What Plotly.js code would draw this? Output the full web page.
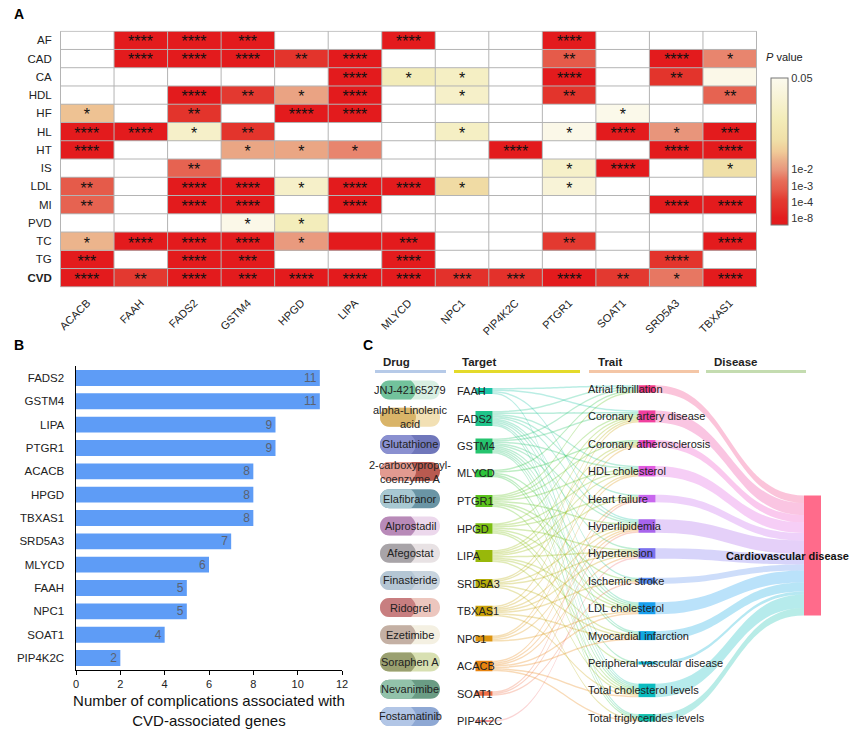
<!DOCTYPE html>
<html>
<head>
<meta charset="utf-8">
<script src="https://cdn.plot.ly/plotly-3.0.1.min.js"></script>
<style>html,body{margin:0;padding:0;background:#fff;}#chart{width:861px;height:736px;}</style>
</head>
<body>
<div id="chart"></div>
<script>
// ---------------- DATA ----------------
const genes = ['ACACB','FAAH','FADS2','GSTM4','HPGD','LIPA','MLYCD','NPC1','PIP4K2C','PTGR1','SOAT1','SRD5A3','TBXAS1'];
const traitCodes = ['AF','CAD','CA','HDL','HF','HL','HT','IS','LDL','MI','PVD','TC','TG','CVD'];
const traitNames = ['Atrial fibrillation','Coronary artery disease','Coronary atherosclerosis','HDL cholesterol','Heart failure','Hyperlipidemia','Hypertension','Ischemic stroke','LDL cholesterol','Myocardial infarction','Peripheral vascular disease','Total cholesterol levels','Total triglycerides levels'];
const R = 1e-10; // strongest (deep red)
// estimated P values (null = not significant / blank), rows = traitCodes, cols = genes
const pAF  = [null, R, R, R, null, null, R, null, null, R, null, null, null];
const pCAD = [null, R, R, R, 3e-5, R, null, null, null, 6e-4, null, R, 5e-3];
const pCA  = [null, null, null, null, null, R, 0.024, 0.028, null, R, null, 3e-5, 0.046];
const pHDL = [null, null, R, 1.3e-4, 0.0108, R, null, 0.03, null, 3e-5, null, null, 1.1e-3];
const pHF  = [0.013, null, 3e-5, null, R, R, null, null, null, null, 0.047, null, null];
const pHL  = [R, R, 0.03, 3e-5, null, null, null, 0.028, null, 0.046, R, 0.009, R];
const pHT  = [R, null, null, 0.011, 0.011, 5e-3, null, null, R, null, null, R, R];
const pIS  = [null, null, 1.1e-3, null, null, null, null, null, null, 0.03, R, null, 0.017];
const pLDL = [6e-4, null, R, R, 0.03, R, R, 0.016, null, 0.036, null, null, null];
const pMI  = [1.1e-3, null, R, R, null, R, null, null, null, null, null, R, R];
const pPVD = [null, null, null, 0.046, 0.025, null, null, null, null, null, null, null, null];
const pTC  = [0.012, R, R, R, 0.0102, R, R, null, null, 1.3e-4, null, null, R];
const pTG  = [R, null, R, R, null, null, R, null, null, null, null, 3e-5, null];
const pCVD = [R, 1.3e-4, R, R, R, R, R, 1e-5, 1e-5, R, 1.3e-4, 3e-3, R];
const sAF  = ['','****','****','***','','','****','','','****','','',''];
const sCAD = ['','****','****','****','**','****','','','','**','','****','*'];
const sCA  = ['','','','','','****','*','*','','****','','**',''];
const sHDL = ['','','****','**','*','****','','*','','**','','','**'];
const sHF  = ['*','','**','','****','****','','','','','*','',''];
const sHL  = ['****','****','*','**','','','','*','','*','****','*','***'];
const sHT  = ['****','','','*','*','*','','','****','','','****','****'];
const sIS  = ['','','**','','','','','','','*','****','','*'];
const sLDL = ['**','','****','****','*','****','****','*','','*','','',''];
const sMI  = ['**','','****','****','','****','','','','','','****','****'];
const sPVD = ['','','','*','*','','','','','','','',''];
const sTC  = ['*','****','****','****','*','','***','','','**','','','****'];
const sTG  = ['***','','****','***','','','****','','','','','****',''];
const sCVD = ['****','**','****','***','****','****','****','***','***','****','**','*','****'];
const pMatrix = [pAF,pCAD,pCA,pHDL,pHF,pHL,pHT,pIS,pLDL,pMI,pPVD,pTC,pTG,pCVD];
const starMatrix = [sAF,sCAD,sCA,sHDL,sHF,sHL,sHT,sIS,sLDL,sMI,sPVD,sTC,sTG,sCVD];
const cbTickP = [0.05, 1e-2, 1e-3, 1e-4, 1e-8];
const cbTickText = ['0.05','1e-2','1e-3','1e-4','1e-8'];

const barGenes  = ['FADS2','GSTM4','LIPA','PTGR1','ACACB','HPGD','TBXAS1','SRD5A3','MLYCD','FAAH','NPC1','SOAT1','PIP4K2C'];
const barCounts = [11, 11, 9, 9, 8, 8, 8, 7, 6, 5, 5, 4, 2];

const sankeyTargets = ['FAAH','FADS2','GSTM4','MLYCD','PTGR1','HPGD','LIPA','SRD5A3','TBXAS1','NPC1','ACACB','SOAT1','PIP4K2C'];
const drugs = ['JNJ-42165279','alpha-Linolenic<br>acid','Glutathione','2-carboxypropyl-<br>coenzyme A','Elafibranor','Alprostadil','Afegostat','Finasteride','Ridogrel','Ezetimibe','Soraphen A','Nevanimibe','Fostamatinib'];
const diseaseName = 'Cardiovascular disease';

// ---------------- STYLE ----------------
const W = 861, H = 736;
const X = x => x / W, Y = y => 1 - y / H;
const FONT = 'Liberation Sans, Arial, sans-serif';
const targetColors = ['#19c4a6','#1fc48a','#25c46e','#2cc43a','#5cc21e','#7cbf12','#98b80a','#b5ad08','#cba20a','#dd940e','#e88410','#f07048','#f07070'];
const traitColors = ['#f23a86','#f0409e','#f04cc8','#e05ce0','#c866ee','#a864ec','#7c72ee','#5a8ef0','#1aa0ee','#10a8e0','#0cb2d4','#0cbcc0','#14c0ae'];
const diseaseColor = '#ff6b8b';
const pillColors = [
  ['#72c29c','#d8efe2'],['#d9b468','#f2e0b4'],['#8a90d0','#7077bb'],['#e29a90','#b85a50'],
  ['#a8c8d2','#6a95a5'],['#b88ab8','#ecd8ec'],['#a8a4a8','#e8e2e4'],['#b4c6d4','#c8d4de'],
  ['#c87e80','#ecc6be'],['#c4b0a4','#f4f0e2'],['#9aa070','#d8e0b2'],['#92c2aa','#6a9c84'],['#b2c6e6','#8ea8d4']
];
function rgba(hex, a){ const n=parseInt(hex.slice(1),16); return `rgba(${n>>16},${(n>>8)&255},${n&255},${a})`; }

// P value -> colour position (piecewise in log10, following the colour bar ticks)
const anchors = [[-12,0],[-8,0.046],[-4,0.154],[-3,0.267],[-2,0.378],[Math.log10(0.05),1.0]];
function pos(p){
  const l = Math.max(-12, Math.log10(p));
  for(let i=1;i<anchors.length;i++){
    if(l <= anchors[i][0]){
      const [a0,t0]=anchors[i-1],[a1,t1]=anchors[i];
      return t0 + (l-a0)/(a1-a0)*(t1-t0);
    }
  }
  return 1;
}
const zMatrix = pMatrix.map(r => r.map(p => p===null ? null : pos(p)));

// ---------------- TRACES ----------------
const heat = {
  type:'heatmap', x: genes, y: traitCodes, z: zMatrix,
  zmin:0, zmax:1, xaxis:'x', yaxis:'y', hoverinfo:'skip',
  colorscale:[[0,'#e31a1c'],[0.05,'#e31c1e'],[0.12,'#e3302a'],[0.17,'#e33a30'],[0.24,'#e55a4a'],[0.30,'#e76c58'],[0.37,'#e8947a'],[0.44,'#ebb08a'],[0.50,'#f0cb98'],[0.58,'#f0e0a8'],[0.72,'#f3ecb9'],[0.87,'#f8f3d6'],[1,'#fcfaee']],
  colorbar:{x:X(771), xanchor:'left', xpad:0, y:Y(151.4), yanchor:'middle', ypad:0,
    len:147.3/H, lenmode:'fraction', thickness:17, thicknessmode:'pixels',
    outlinewidth:1, outlinecolor:'#777', ticks:'',
    tickvals: cbTickP.map(pos), ticktext: cbTickText,
    tickfont:{size:11,color:'#333',family:FONT}}
};

// significance stars on an invisible overlay axis (linear index positions, nudged slightly down)
const starX=[], starY=[], starT=[];
starMatrix.forEach((row,ri)=>row.forEach((s,gi)=>{ if(s!==''){ starX.push(gi); starY.push(ri+0.17); starT.push(s); } }));
const stars = {type:'scatter', mode:'text', x:starX, y:starY, text:starT, textposition:'middle center',
  textfont:{size:16,color:'#111',family:FONT}, xaxis:'x3', yaxis:'y3', hoverinfo:'skip', cliponaxis:false};

const bars = {
  type:'bar', orientation:'h', x: barCounts, y: barGenes, xaxis:'x2', yaxis:'y2',
  marker:{color:'#5e9cf6'}, text: barCounts.map(String), textposition:'inside', textangle:0,
  constraintext:'none', insidetextanchor:'end', textfont:{size:12,color:'#5b6270',family:FONT},
  hoverinfo:'skip', width:0.68
};

// sankey nodes: targets, traits, disease
const nT = sankeyTargets.length, nR = traitNames.length;
const dom = {x0:470, x1:825, y0:375, y1:735};
const dW = dom.x1-dom.x0, dH = dom.y1-dom.y0;
const targetY = sankeyTargets.map((_,i)=>391 + i*27.5);
const traitY = traitNames.map((_,i)=>389 + i*27.4);
const diseaseY = 555.5;
const nodeX = [], nodeY = [];
targetY.forEach(y=>{nodeX.push((484-dom.x0)/dW); nodeY.push((y-dom.y0)/dH);});
traitY.forEach(y=>{nodeX.push((647-dom.x0)/dW); nodeY.push((y-dom.y0)/dH);});
nodeX.push((812.5-dom.x0)/dW); nodeY.push((diseaseY-dom.y0)/dH);

const src=[], tgt=[], val=[], lcol=[];
sankeyTargets.forEach((g,ti)=>{
  const gi = genes.indexOf(g);
  traitNames.forEach((_,ri)=>{
    const p = pMatrix[ri][gi], s = starMatrix[ri][gi];
    if(s!=='' || (p!==null && p<1e-4)){
      src.push(ti); tgt.push(nT+ri); val.push(1); lcol.push(rgba(targetColors[ti],0.3));
    }
  });
});
const traitIn = traitNames.map((_,ri)=>src.filter((s,k)=>tgt[k]===nT+ri).length);
traitNames.forEach((_,ri)=>{
  src.push(nT+ri); tgt.push(nT+nR); val.push(traitIn[ri]); lcol.push(rgba(traitColors[ri],0.3));
});

const sankey = {
  type:'sankey', arrangement:'fixed',
  domain:{x:[X(dom.x0),X(dom.x1)], y:[Y(dom.y1),Y(dom.y0)]},
  textfont:{color:'rgba(0,0,0,0)',size:1},
  hoverinfo:'skip',
  node:{label: sankeyTargets.concat(traitNames,[diseaseName]),
        color: targetColors.concat(traitColors,[diseaseColor]),
        x: nodeX, y: nodeY, pad:23, thickness:17, line:{width:0}},
  link:{source:src, target:tgt, value:val, color:lcol}
};

// ---------------- SHAPES & ANNOTATIONS ----------------
const shapes = [];
const annotations = [];
// heatmap grid
for(let i=0;i<=genes.length;i++) shapes.push({type:'line',xref:'x',yref:'y',x0:i-0.5,x1:i-0.5,y0:-0.5,y1:traitCodes.length-0.5,line:{color:'#b4b4b4',width:1}});
for(let j=0;j<=traitCodes.length;j++) shapes.push({type:'line',xref:'x',yref:'y',x0:-0.5,x1:genes.length-0.5,y0:j-0.5,y1:j-0.5,line:{color:'#b4b4b4',width:1}});
// panel C header bars
const headers = [['Drug',381,375,446,'#b6cae8'],['Target',460,454,580,'#e4da2a'],['Trait',596,589,699,'#f4c6a6'],['Disease',712,706,806,'#c4dcb0']];
headers.forEach(h=>shapes.push({type:'rect',xref:'paper',yref:'paper',x0:X(h[2]),x1:X(h[3]),y0:Y(373),y1:Y(370),fillcolor:h[4],line:{width:0}}));
// drug pills
function pill(cx,cy,w,h){
  const r=h/2,k=4/3*r,xl=cx-w/2+r,xr=cx+w/2-r;
  const full=`M${X(xl)},${Y(cy-r)} L${X(xr)},${Y(cy-r)} C${X(xr+k)},${Y(cy-r)} ${X(xr+k)},${Y(cy+r)} ${X(xr)},${Y(cy+r)} L${X(xl)},${Y(cy+r)} C${X(xl-k)},${Y(cy+r)} ${X(xl-k)},${Y(cy-r)} ${X(xl)},${Y(cy-r)} Z`;
  const left=`M${X(cx+1)},${Y(cy-r)} L${X(xl)},${Y(cy-r)} C${X(xl-k)},${Y(cy-r)} ${X(xl-k)},${Y(cy+r)} ${X(xl)},${Y(cy+r)} L${X(cx+1)},${Y(cy+r)} Q${X(cx+11)},${Y(cy)} ${X(cx+1)},${Y(cy-r)} Z`;
  return [full,left];
}
drugs.forEach((d,i)=>{
  const cy = 390 + i*27.2;
  const [full,left] = pill(410,cy,60,19);
  shapes.push({type:'path',xref:'paper',yref:'paper',path:full,fillcolor:pillColors[i][1],line:{width:0},layer:'below'});
  shapes.push({type:'path',xref:'paper',yref:'paper',path:left,fillcolor:pillColors[i][0],line:{width:0},layer:'below'});
  annotations.push({xref:'paper',yref:'paper',x:X(410),y:Y(cy),text:d,showarrow:false,xanchor:'center',yanchor:'middle',font:{size:11,color:'#222',family:FONT}});
});
// panel letters
[['A',12,14],['B',12,345],['C',361,345]].forEach(l=>annotations.push({xref:'paper',yref:'paper',x:X(l[1]),y:Y(l[2]),text:'<b>'+l[0]+'</b>',showarrow:false,xanchor:'left',yanchor:'middle',font:{size:14,color:'#000',family:FONT}}));
// headers text
headers.forEach(h=>annotations.push({xref:'paper',yref:'paper',x:X(h[1]),y:Y(362),text:'<b>'+h[0]+'</b>',showarrow:false,xanchor:'left',yanchor:'middle',font:{size:11.5,color:'#222',family:FONT}}));
// sankey labels
sankeyTargets.forEach((g,i)=>annotations.push({xref:'paper',yref:'paper',x:X(458),y:Y(targetY[i]),text:g,showarrow:false,xanchor:'left',yanchor:'middle',xshift:-3,font:{size:11,color:'#222',family:FONT}}));
traitNames.forEach((t,i)=>annotations.push({xref:'paper',yref:'paper',x:X(589),y:Y(traitY[i]),text:t,showarrow:false,xanchor:'left',yanchor:'middle',xshift:-3,font:{size:11,color:'#222',family:FONT}}));
annotations.push({xref:'paper',yref:'paper',x:X(787),y:Y(diseaseY),text:'<b>'+diseaseName+'</b>',showarrow:false,xanchor:'center',yanchor:'middle',font:{size:11,color:'#111',family:FONT}});
// colour bar title
annotations.push({xref:'paper',yref:'paper',x:X(764),y:Y(57),text:'<i>P</i> value',showarrow:false,xanchor:'left',yanchor:'middle',font:{size:11,color:'#222',family:FONT}});

const heatDomX = [X(60),X(757)], heatDomY = [Y(287.3),Y(30.7)];
const layout = {
  width:W, height:H, margin:{l:0,r:0,t:0,b:0}, paper_bgcolor:'#fff', plot_bgcolor:'#fff',
  showlegend:false, hovermode:false, font:{family:FONT,color:'#222'},
  xaxis:{domain:heatDomX, anchor:'y', type:'category', tickangle:-45, ticks:'outside', ticklen:4, tickcolor:'rgba(0,0,0,0)',
    tickfont:{size:11,color:'#222'}, showgrid:false, zeroline:false, showline:false, fixedrange:true},
  yaxis:{domain:heatDomY, anchor:'x', type:'category', autorange:'reversed', tickvals:traitCodes,
    ticktext:traitCodes.map(c=>c==='CVD'?'<b>CVD</b>':c), ticks:'outside', ticklen:5, tickcolor:'rgba(0,0,0,0)',
    tickfont:{size:11.5,color:'#222'}, showgrid:false, zeroline:false, showline:false, fixedrange:true},
  xaxis3:{domain:heatDomX, anchor:'y3', overlaying:'x', range:[-0.5, genes.length-0.5], visible:false, fixedrange:true},
  yaxis3:{domain:heatDomY, anchor:'x3', overlaying:'y', range:[traitCodes.length-0.5, -0.5], visible:false, fixedrange:true},
  xaxis2:{domain:[X(76),X(342)], anchor:'y2', range:[0,12], dtick:2, ticks:'outside', ticklen:4, tickcolor:'#000', tickwidth:1,
    showline:true, linecolor:'#000', linewidth:1.5, showgrid:false, zeroline:false, tickfont:{size:11,color:'#222'},
    title:{text:'Number of complications associated with<br>CVD-associated genes', font:{size:15,color:'#111'}, standoff:6}},
  yaxis2:{domain:[Y(669.7),Y(366.3)], anchor:'x2', type:'category', autorange:'reversed', ticks:'outside', ticklen:8, tickcolor:'rgba(0,0,0,0)',
    showline:true, linecolor:'#000', linewidth:1.5, showgrid:false, zeroline:false, tickfont:{size:11.5,color:'#222'}},
  shapes: shapes, annotations: annotations
};

Plotly.newPlot('chart',[heat,stars,bars,sankey],layout,{displayModeBar:false,staticPlot:true});
</script>
</body>
</html>
